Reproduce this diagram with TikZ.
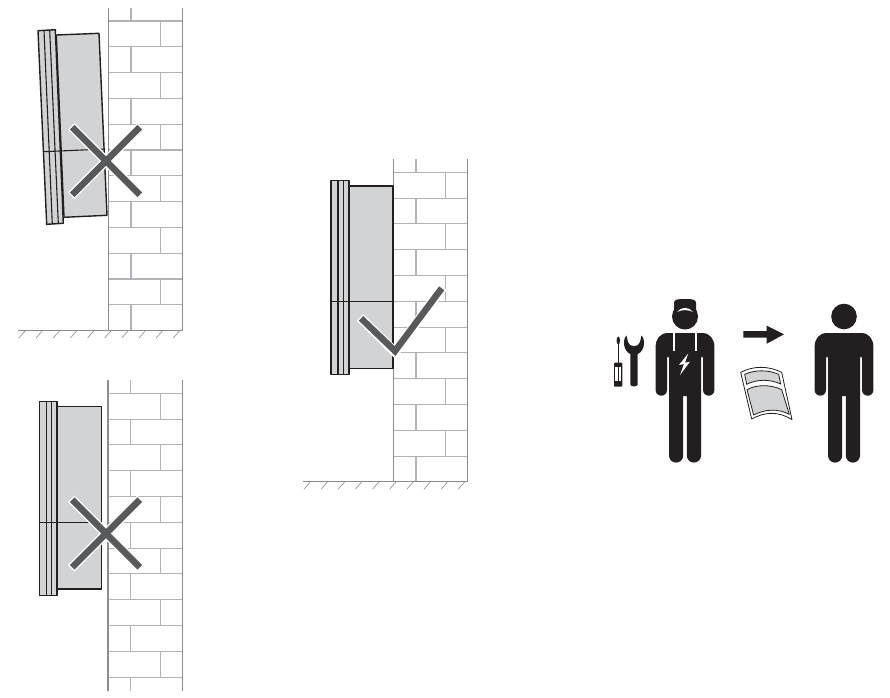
\documentclass[tikz,border=0pt]{standalone}
\definecolor{wallout}{HTML}{8A8C8E}
\definecolor{wallin}{HTML}{B1B3B6}
\definecolor{boxfill}{HTML}{D1D3D4}
\definecolor{inkblack}{HTML}{231F20}
\definecolor{markgray}{HTML}{58595B}
\tikzset{
  wallouter/.style={draw=wallout,line width=1.5pt},
  wallinner/.style={draw=wallin,line width=1.1pt},
  groundhatch/.style={draw=wallout,line width=.6pt},
  devbox/.style={draw=inkblack,fill=boxfill,line width=1.4pt,line join=round},
  devline/.style={draw=inkblack,line width=1.1pt},
  markhalo/.style={draw=white,line width=9.5pt,shorten >=-1.5pt,shorten <=-1.5pt},
  markhalocheck/.style={draw=white,line width=9.5pt,miter limit=10},
  markink/.style={draw=markgray,line width=6.5pt},
  silhouette/.style={fill=inkblack,draw=none},
}
% #1 left x, #2 top, #3 first joint y, #4 bottom, #5 last row index
\newcommand{\brickwall}[5]{%
  \pgfmathsetmacro{\wxa}{#1+22.7}
  \pgfmathsetmacro{\wxb}{#1+52.4}
  \pgfmathsetmacro{\wxr}{#1+74.4}
  \draw[wallinner] (\wxa,#2) -- (\wxa,#3);
  \foreach \i in {0,...,#5}{
    \pgfmathsetmacro{\wya}{#3+\i*25.8}
    \pgfmathsetmacro{\wyb}{min(#3+(\i+1)*25.8,#4)}
    \pgfmathsetmacro{\wxv}{mod(\i,2)==0 ? \wxb : \wxa}
    \draw[wallinner] (#1,\wya) -- (\wxr,\wya);
    \draw[wallinner] (\wxv,\wya) -- (\wxv,\wyb);
  }
  \draw[wallouter] (#1,#2) -- (#1,#4);
  \draw[wallouter] (\wxr,#2) -- (\wxr,#4);
}
% #1 left x, #2 right x, #3 y
\newcommand{\groundline}[3]{%
  \draw[wallouter] (#1,#3) -- (#2,#3);
  \foreach \k in {0,...,9}{
    \draw[groundhatch] ({#1+7.2+\k*17.15},#3) -- ({#1+0.6+\k*17.15},#3+7.5);
  }
}
% #1 flange left, #2 flange top, #3 flange bottom, #4 body top, #5 body bottom, #6 divider y
\newcommand{\straightdevice}[6]{%
  \draw[devbox] ({#1+17.8},#4) rectangle ({#1+62},#5);
  \draw[devbox] (#1,#2) rectangle ({#1+17.8},#3);
  \draw[devline] ({#1+7},#2) -- ({#1+7},#3);
  \draw[devline] ({#1+12.5},#2) -- ({#1+12.5},#3);
  \draw[devline] (#1,#6) -- ({#1+62},#6);
}
% #1 cx, #2 cy
\newcommand{\crossmark}[2]{%
  \draw[markhalo] ({#1-33.8},{#2-33.8}) -- ({#1+33.8},{#2+33.8});
  \draw[markhalo] ({#1-33.8},{#2+33.8}) -- ({#1+33.8},{#2-33.8});
  \draw[markink] ({#1-33.8},{#2-33.8}) -- ({#1+33.8},{#2+33.8});
  \draw[markink] ({#1-33.8},{#2+33.8}) -- ({#1+33.8},{#2-33.8});
}
% #1 centre x: body silhouette, shoulders at y=333
\newcommand{\personbody}[1]{%
  \begin{scope}[shift={(#1,333)}]
    \fill[silhouette] (-17,0) -- (17,0)
      .. controls (25,0) and (29.4,6) .. (29.4,14)
      -- (29.4,57) arc[start angle=0,end angle=180,x radius=5.7,y radius=5.7]
      -- (18,25) .. controls (18,22.5) and (16,22.5) .. (16,25)
      -- (16,122.5) arc[start angle=0,end angle=180,x radius=7.1,y radius=7.1]
      -- (1.8,63) -- (-1.8,63)
      -- (-1.8,122.5) arc[start angle=0,end angle=180,x radius=7.1,y radius=7.1]
      -- (-16,25) .. controls (-16,22.5) and (-18,22.5) .. (-18,25)
      -- (-18,57) arc[start angle=0,end angle=180,x radius=5.7,y radius=5.7]
      -- (-29.4,14) .. controls (-29.4,6) and (-25,0) .. (-17,0) -- cycle;
  \end{scope}
}
\begin{document}
\begin{tikzpicture}[x=1pt,y=-1pt]
\useasboundingbox (0,0) rectangle (890,697);
\fill[white] (0,0) rectangle (890,697);

% --- top left: tilted unit
\brickwall{108.3}{8}{21}{330.5}{11}
\groundline{18.3}{182.7}{330.5}
\draw[devbox] (56.3,35) -- (99,33.3) -- (107,215.3) -- (64,217.3) -- cycle;
\draw[devbox] (38,30.7) -- (55.3,29.7) -- (63.3,223.3) -- (46.7,224.3) -- cycle;
\draw[devline] (44,30.4) -- (52.3,223.9);
\draw[devline] (49.7,30) -- (58.3,223.6);
\draw[devline] (43.3,151.7) -- (105,149);
\crossmark{106}{161}

% --- bottom left: unit with gap
\brickwall{108}{380}{393.3}{690.7}{11}
\straightdevice{39.3}{401.7}{595.3}{406.7}{589}{522.3}
\crossmark{106}{533.5}

% --- centre: correct mounting
\brickwall{393.3}{159.3}{172.3}{481.7}{11}
\groundline{303.3}{467.7}{481.7}
\straightdevice{331}{180.7}{374.3}{186}{368.3}{301.7}
\draw[markhalocheck] (360,317.3) -- (395,352) -- (443,287);
\draw[markink] (361,318.3) -- (395,351) -- (441.7,288.3);

% --- electrician
\personbody{685}
\fill[silhouette] (685,316.5) circle[radius=13];
\fill[silhouette] (674,313) -- (674,303) .. controls (674,299.5) and (677,299) .. (685,299)
  .. controls (693,299) and (696,299.5) .. (696,303) -- (696,313) -- cycle;
\fill[white] (677,312) .. controls (681,306.5) and (689,306.5) .. (693,312)
  .. controls (689,309.5) and (681,309.5) .. (677,312) -- cycle;
\draw[white,line width=1.8pt] (674,333) -- (674,351);
\draw[white,line width=1.8pt] (696,333) -- (696,351);
\fill[white] (688.3,353.3) -- (679,365) -- (684,364) -- (680,375) -- (690,361.7) -- (685,362.7) -- cycle;

% --- screwdriver
\fill[silhouette] (618.3,340.5) ellipse[x radius=1.7,y radius=4];
\draw[inkblack,line width=1.5pt] (618.3,342) -- (618.3,363);
\fill[silhouette,rounded corners=.8pt] (614,362.7) rectangle (622.3,386.7);
\fill[white] (615.2,366.5) rectangle (617.6,381);
\fill[white] (619,366.5) rectangle (621.2,381);

% --- wrench
\fill[silhouette] (626.5,335.5) .. controls (622.5,339) and (623,351) .. (630.3,354)
  -- (630.3,384.5) .. controls (630.3,387) and (637.7,387) .. (637.7,384.5)
  -- (637.7,354) .. controls (645,351) and (645.5,339) .. (641.5,335.5)
  -- (640,342) .. controls (639,347.5) and (629,347.5) .. (628,342) -- cycle;

% --- arrow
\fill[silhouette] (743.3,331) -- (766.7,331) -- (766.7,325.7) -- (784,334.3)
  -- (766.7,343.7) -- (766.7,337.7) -- (743.3,337.7) -- cycle;

% --- booklet
\begin{scope}[shift={(730,295)},scale=1/3]
  \draw[inkblack,fill=white,line width=.8pt,line join=round]
    (32,232) .. controls (70,212) and (115,212) .. (155,232)
    -- (186,374) .. controls (145,348) and (105,350) .. (65,372) -- cycle;
  \draw[inkblack,fill=boxfill,line width=.8pt,line join=round]
    (44,238) .. controls (75,224) and (115,224) .. (146,238)
    -- (152,267) .. controls (120,252) and (80,252) .. (50,268) -- cycle;
  \draw[inkblack,fill=boxfill,line width=.8pt,line join=round]
    (51,284) .. controls (80,268) and (122,268) .. (155,284)
    -- (178,358) .. controls (145,340) and (105,342) .. (71,360) -- cycle;
\end{scope}

% --- instructed person
\personbody{844}
\fill[silhouette] (844,316.5) circle[radius=12.8];
\end{tikzpicture}
\end{document}
